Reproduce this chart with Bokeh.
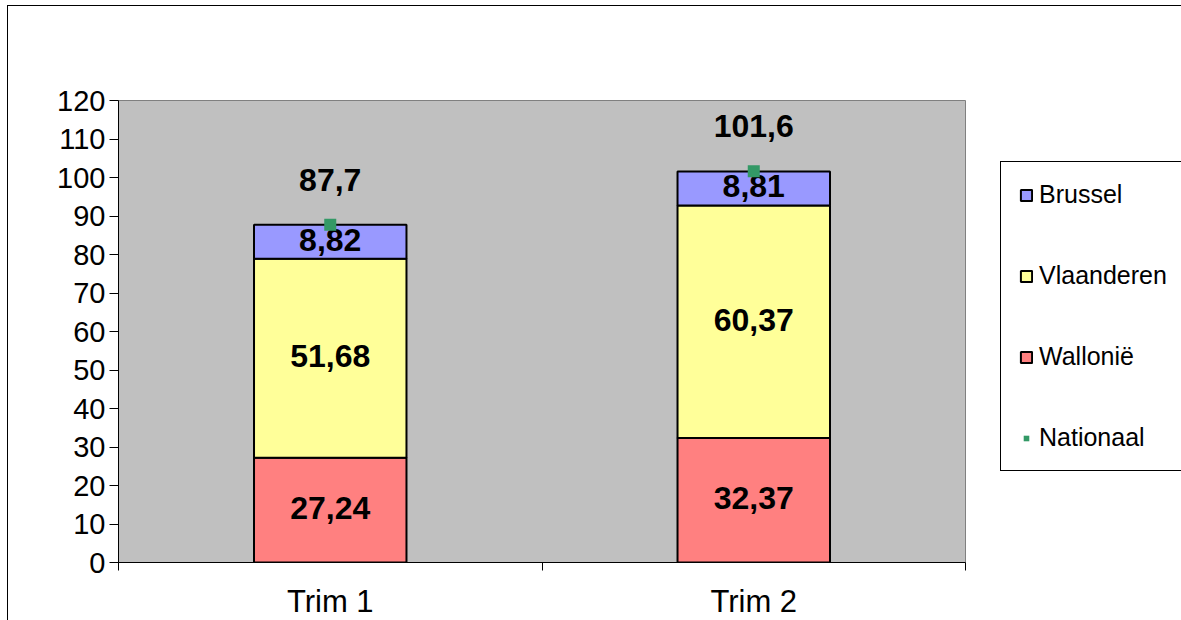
from bokeh.plotting import figure
from bokeh.models import Range1d, FixedTicker, Legend, LegendItem, ColumnDataSource
from bokeh.embed import file_html
from bokeh.resources import INLINE
from bokeh.core.properties import value

categories = ["Trim 1", "Trim 2"]
wallonie = [27.24, 32.37]
vlaanderen = [51.68, 60.37]
brussel = [8.82, 8.81]
nationaal = [87.7, 101.6]
y_ticks = list(range(0, 121, 10))

FONT_NAME = "Liberation Sans"
FONT = value(FONT_NAME)
x = [i + 0.5 for i in range(len(categories))]


def fmt(v):
    return str(v).replace(".", ",")


src = ColumnDataSource(dict(
    x=x,
    wallonie=wallonie,
    vlaanderen=vlaanderen,
    brussel=brussel,
))

p = figure(frame_width=847, frame_height=462, x_range=Range1d(0, len(categories)), y_range=Range1d(0, 120),
           output_backend="svg", toolbar_location=None,
           min_border_left=110, min_border_top=94, min_border_bottom=57, min_border_right=200)
p.margin = (5, 0, 0, 7)
p.styles = {"border-left": "1px solid black", "border-top": "1px solid black"}
p.background_fill_color = "#C0C0C0"
p.border_fill_color = "white"
p.outline_line_color = "#808080"
p.outline_line_width = 1
p.grid.visible = False

rs = p.vbar_stack(["wallonie", "vlaanderen", "brussel"], x="x", width=0.36, source=src,
                  fill_color=["#FF8080", "#FFFF99", "#9999FF"], line_color="black", line_width=2)

# segment labels
w_mid = [w / 2 for w in wallonie]
v_mid = [w + v / 2 for w, v in zip(wallonie, vlaanderen)]
b_mid = [w + v + b / 2 for w, v, b in zip(wallonie, vlaanderen, brussel)]
lab_src = ColumnDataSource(dict(
    x=x * 3,
    y=w_mid + v_mid + b_mid,
    t=[fmt(v) for v in wallonie] + [fmt(v) for v in vlaanderen] + [fmt(v) for v in brussel],
))
p.text(x="x", y="y", text="t", source=lab_src, text_font=FONT, text_font_style="bold",
       text_font_size="32px", text_align="center", text_baseline="middle", y_offset=-2,
       text_color="black")

nat = p.scatter(x=x, y=nationaal, marker="square", size=12, fill_color="#339966", line_color=None)
p.text(x=x, y=nationaal, text=[fmt(v) for v in nationaal], text_font=FONT, text_font_style="bold",
       text_font_size="32px", text_align="center", text_baseline="middle", y_offset=-45,
       text_color="black")

# y axis
p.yaxis.ticker = FixedTicker(ticks=y_ticks)
p.yaxis.major_tick_out = 9
p.yaxis.major_tick_in = 0
p.yaxis.minor_tick_line_color = None
p.yaxis.major_label_text_font = FONT_NAME
p.yaxis.major_label_text_font_size = "29px"
p.yaxis.major_label_text_color = "black"
p.yaxis.major_label_standoff = 4
p.yaxis.axis_line_color = "black"
p.yaxis.major_tick_line_color = "black"

# x axis
p.xaxis.ticker = FixedTicker(ticks=x, minor_ticks=list(range(len(categories) + 1)))
p.xaxis.major_label_overrides = dict(zip(x, categories))
p.xaxis.major_tick_out = 0
p.xaxis.major_tick_in = 0
p.xaxis.minor_tick_out = 8
p.xaxis.minor_tick_in = 0
p.xaxis.minor_tick_line_color = "black"
p.xaxis.major_label_text_font = FONT_NAME
p.xaxis.major_label_text_font_size = "31px"
p.xaxis.major_label_text_color = "black"
p.xaxis.major_label_standoff = 13
p.xaxis.axis_line_color = "black"

legend = Legend(items=[
    LegendItem(label="Brussel", renderers=[rs[2]]),
    LegendItem(label="Vlaanderen", renderers=[rs[1]]),
    LegendItem(label="Wallonië", renderers=[rs[0]]),
    LegendItem(label="Nationaal", renderers=[nat]),
], location=(35, 91))
legend.border_line_color = "black"
legend.border_line_width = 1
legend.border_line_alpha = 1
legend.background_fill_color = "white"
legend.background_fill_alpha = 1
legend.label_text_font = FONT_NAME
legend.label_text_font_size = "25px"
legend.label_text_color = "black"
legend.padding = 18
legend.spacing = 52
legend.label_height = 29
legend.glyph_height = 14
legend.glyph_width = 14
legend.label_standoff = 6
legend.margin = 0
p.add_layout(legend, "right")

open("out.html", "w").write(file_html(p, INLINE))
